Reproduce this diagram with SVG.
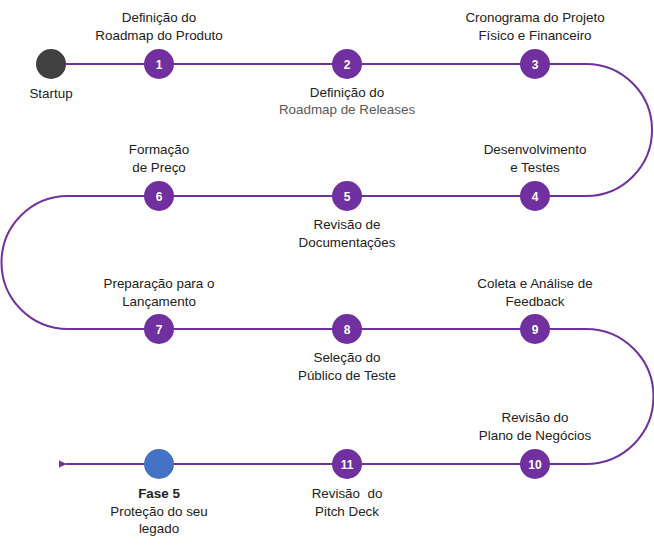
<svg xmlns="http://www.w3.org/2000/svg" width="654" height="545" viewBox="0 0 654 545">
<style>
.t{font-family:"Liberation Sans",Arial,sans-serif;font-size:13.4px;fill:#222222;text-anchor:middle}
.g{fill:#595959}
.b{font-weight:bold}
.n{font-family:"Liberation Sans",Arial,sans-serif;font-size:12px;font-weight:bold;fill:#ffffff;text-anchor:middle}
.c{fill:#7030A0}
.line{fill:none;stroke:#7030A0;stroke-width:2}
</style>
<defs>
<marker id="ah" markerWidth="8" markerHeight="8" refX="1" refY="4" orient="auto" markerUnits="userSpaceOnUse">
<path d="M8,0.5 L0,4 L8,7.5 Z" fill="#7030A0"/>
</marker>
</defs>
<rect width="654" height="545" fill="#ffffff"/>
<g id="connectors">
<path class="line" marker-end="url(#ah)" d="M51,64 H586 A66,66 0 0 1 586,196 H68 A66.5,66.5 0 0 0 68,329 H586 A67.5,67.5 0 0 1 586,464 H66"/>
</g>
<g id="startup">
<circle cx="51" cy="64" r="15" fill="#404040"/>
<text class="t" x="51" y="98">Startup</text>
</g>
<g id="n1">
<circle class="c" cx="159" cy="64" r="15"/>
<text class="n" x="159" y="68.5">1</text>
<text class="t" x="159" y="22">Definição do</text>
<text class="t" x="159" y="40">Roadmap do Produto</text>
</g>
<g id="n2">
<circle class="c" cx="347" cy="64" r="15"/>
<text class="n" x="347" y="68.5">2</text>
<text class="t" x="347" y="97">Definição do</text>
<text class="t g" x="347" y="114">Roadmap de Releases</text>
</g>
<g id="n3">
<circle class="c" cx="535" cy="64" r="15"/>
<text class="n" x="535" y="68.5">3</text>
<text class="t" x="535" y="22">Cronograma do Projeto</text>
<text class="t" x="535" y="40">Físico e Financeiro</text>
</g>
<g id="n4">
<circle class="c" cx="535" cy="196" r="15"/>
<text class="n" x="535" y="200.5">4</text>
<text class="t" x="535" y="154">Desenvolvimento</text>
<text class="t" x="535" y="172">e Testes</text>
</g>
<g id="n5">
<circle class="c" cx="347" cy="196" r="15"/>
<text class="n" x="347" y="200.5">5</text>
<text class="t" x="347" y="229">Revisão de</text>
<text class="t" x="347" y="247">Documentações</text>
</g>
<g id="n6">
<circle class="c" cx="159" cy="196" r="15"/>
<text class="n" x="159" y="200.5">6</text>
<text class="t" x="159" y="154">Formação</text>
<text class="t" x="159" y="172">de Preço</text>
</g>
<g id="n7">
<circle class="c" cx="159" cy="329" r="15"/>
<text class="n" x="159" y="333.5">7</text>
<text class="t" x="159" y="288">Preparação para o</text>
<text class="t" x="159" y="306">Lançamento</text>
</g>
<g id="n8">
<circle class="c" cx="347" cy="329" r="15"/>
<text class="n" x="347" y="333.5">8</text>
<text class="t" x="347" y="362">Seleção do</text>
<text class="t" x="347" y="380">Público de Teste</text>
</g>
<g id="n9">
<circle class="c" cx="535" cy="329" r="15"/>
<text class="n" x="535" y="333.5">9</text>
<text class="t" x="535" y="288">Coleta e Análise de</text>
<text class="t" x="535" y="306">Feedback</text>
</g>
<g id="n10">
<circle class="c" cx="535" cy="464" r="15"/>
<text class="n" x="535" y="468.5">10</text>
<text class="t" x="535" y="422">Revisão do</text>
<text class="t" x="535" y="440">Plano de Negócios</text>
</g>
<g id="n11">
<circle class="c" cx="347" cy="464" r="15"/>
<text class="n" x="347" y="468.5">11</text>
<text class="t" x="347" y="498">Revisão&#160; do</text>
<text class="t" x="347" y="516">Pitch Deck</text>
</g>
<g id="fase5">
<circle cx="159" cy="464" r="15" fill="#4472C4"/>
<text class="t b" x="159" y="498">Fase 5</text>
<text class="t" x="159" y="516">Proteção do seu</text>
<text class="t" x="159" y="533">legado</text>
</g>
</svg>
